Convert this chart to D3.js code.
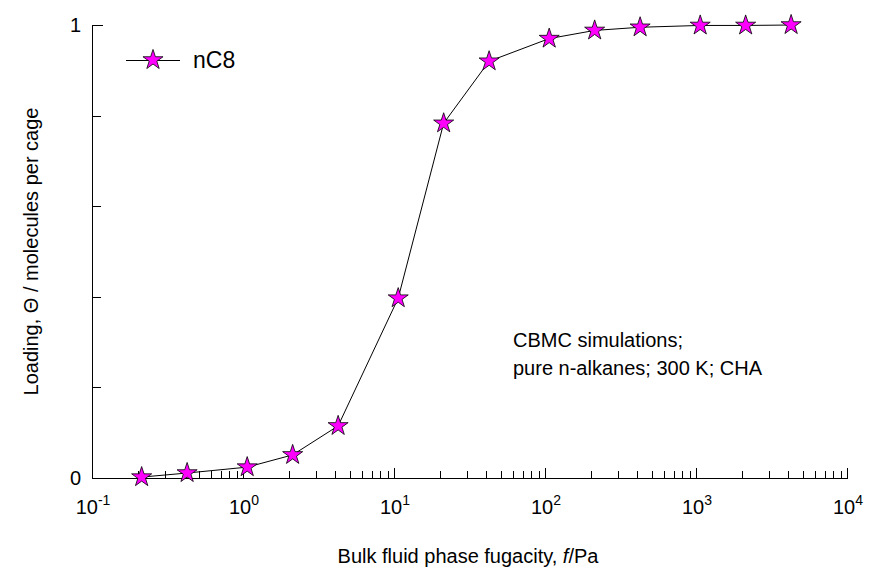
<!DOCTYPE html>
<html>
<head>
<meta charset="utf-8">
<script src="https://cdn.jsdelivr.net/npm/d3@7"></script>
<style>
    body { margin: 0; background: #fff; }
    text { font-family: Arial, "Liberation Sans", sans-serif; fill: #000; }
</style>
</head>
<body>
<svg id="chart" width="869" height="571"></svg>
<script>
    "use strict";

    // nC8 loading vs. fugacity
    var fugacity = [0.21, 0.42, 1.05, 2.1, 4.2, 10.5, 21, 42, 105, 210, 420, 1050, 2100, 4200],
        loading = [0.002, 0.011, 0.024, 0.051, 0.115, 0.397, 0.783, 0.920, 0.970, 0.988, 0.995, 0.999, 0.999, 1.0],
        xDecades = [-1, 0, 1, 2, 3, 4],
        yTicks = [0, 0.2, 0.4, 0.6, 0.8, 1],
        yLabels = [0, 1],
        seriesName = "nC8",
        noteLines = ["CBMC simulations;", "pure n-alkanes; 300 K; CHA"];

    var svg = d3.select("#chart"),
        m = {left: 93, right: 848, top: 25, bottom: 478},
        x = d3.scaleLog().domain([0.1, 1e4]).range([m.left, m.right]),
        y = d3.scaleLinear().domain([0, 1]).range([m.bottom, m.top]),
        starSym = d3.symbol().type(d3.symbolStar).size(125);

    // minor ticks: 2..9 of every decade
    var minors = [];
    xDecades.slice(0, -1).forEach(function (d) {
        var k;
        for(k = 2; k <= 9; k += 1) {
            minors.push(k * Math.pow(10, d)); }
    });

    var ax = svg.append("g").attr("stroke", "#000").attr("stroke-width", 1);
    ax.append("line")
        .attr("x1", m.left).attr("x2", m.right)
        .attr("y1", m.bottom + 0.5).attr("y2", m.bottom + 0.5);
    ax.append("line")
        .attr("x1", m.left - 0.5).attr("x2", m.left - 0.5)
        .attr("y1", m.top).attr("y2", m.bottom + 1);
    ax.selectAll(".xminor").data(minors).enter().append("line")
        .attr("x1", function (d) { return Math.round(x(d)) + 0.5; })
        .attr("x2", function (d) { return Math.round(x(d)) + 0.5; })
        .attr("y1", m.bottom).attr("y2", m.bottom - 7);
    ax.selectAll(".xmajor").data(xDecades).enter().append("line")
        .attr("x1", function (d) { return Math.round(x(Math.pow(10, d))) - 0.5; })
        .attr("x2", function (d) { return Math.round(x(Math.pow(10, d))) - 0.5; })
        .attr("y1", m.bottom).attr("y2", m.bottom - 10);
    ax.selectAll(".ytick").data(yTicks).enter().append("line")
        .attr("x1", m.left).attr("x2", function (d) { return d === 1 ? m.left + 10 : m.left + 8; })
        .attr("y1", function (d) { return Math.round(y(d)) + 0.5; })
        .attr("y2", function (d) { return Math.round(y(d)) + 0.5; });

    // x tick labels 10^n
    var xl = svg.append("g").selectAll("text").data(xDecades).enter().append("text")
        .attr("x", function (d) { return x(Math.pow(10, d)); })
        .attr("y", 514)
        .attr("text-anchor", "middle")
        .attr("font-size", 20);
    xl.append("tspan").text("10");
    xl.append("tspan").attr("dy", -9).attr("font-size", 14).text(function (d) { return d; });

    svg.append("g").selectAll("text").data(yLabels).enter().append("text")
        .attr("x", 81).attr("y", function (d) { return y(d) + 7; })
        .attr("text-anchor", "end")
        .attr("font-size", 20)
        .text(function (d) { return d; });

    // axis titles
    var xt = svg.append("text")
        .attr("x", 468).attr("y", 563)
        .attr("text-anchor", "middle")
        .attr("font-size", 20);
    xt.append("tspan").text("Bulk fluid phase fugacity, ");
    xt.append("tspan").attr("font-style", "italic").text("f");
    xt.append("tspan").text("/Pa");

    svg.append("text")
        .attr("transform", "translate(38," + ((m.top + m.bottom) / 2) + ") rotate(-90)")
        .attr("text-anchor", "middle")
        .attr("font-size", 20)
        .text("Loading, \u0398 / molecules per cage");

    // curve and stars
    var pts = fugacity.map(function (f, i) { return [f, loading[i]]; });
    svg.append("path")
        .datum(pts)
        .attr("fill", "none")
        .attr("stroke", "#000")
        .attr("stroke-width", 1)
        .attr("d", d3.line().x(function (d) { return x(d[0]); }).y(function (d) { return y(d[1]); }));
    svg.append("g").selectAll("path").data(pts).enter().append("path")
        .attr("transform", function (d) { return "translate(" + x(d[0]) + "," + y(d[1]) + ")"; })
        .attr("d", starSym)
        .attr("fill", "#ff00ff")
        .attr("stroke", "#000")
        .attr("stroke-width", 0.8);

    // legend
    var lg = svg.append("g");
    lg.append("line")
        .attr("x1", 126).attr("x2", 180).attr("y1", 60.5).attr("y2", 60.5)
        .attr("stroke", "#000");
    lg.append("path")
        .attr("transform", "translate(153,60)")
        .attr("d", starSym)
        .attr("fill", "#ff00ff").attr("stroke", "#000").attr("stroke-width", 0.8);
    lg.append("text").attr("x", 193).attr("y", 68).attr("font-size", 23).text(seriesName);

    // annotation
    svg.append("g").selectAll("text").data(noteLines).enter().append("text")
        .attr("x", 513).attr("y", function (d, i) { return 347 + i * 28; })
        .attr("font-size", 20)
        .text(function (d) { return d; });
</script>
</body>
</html>
